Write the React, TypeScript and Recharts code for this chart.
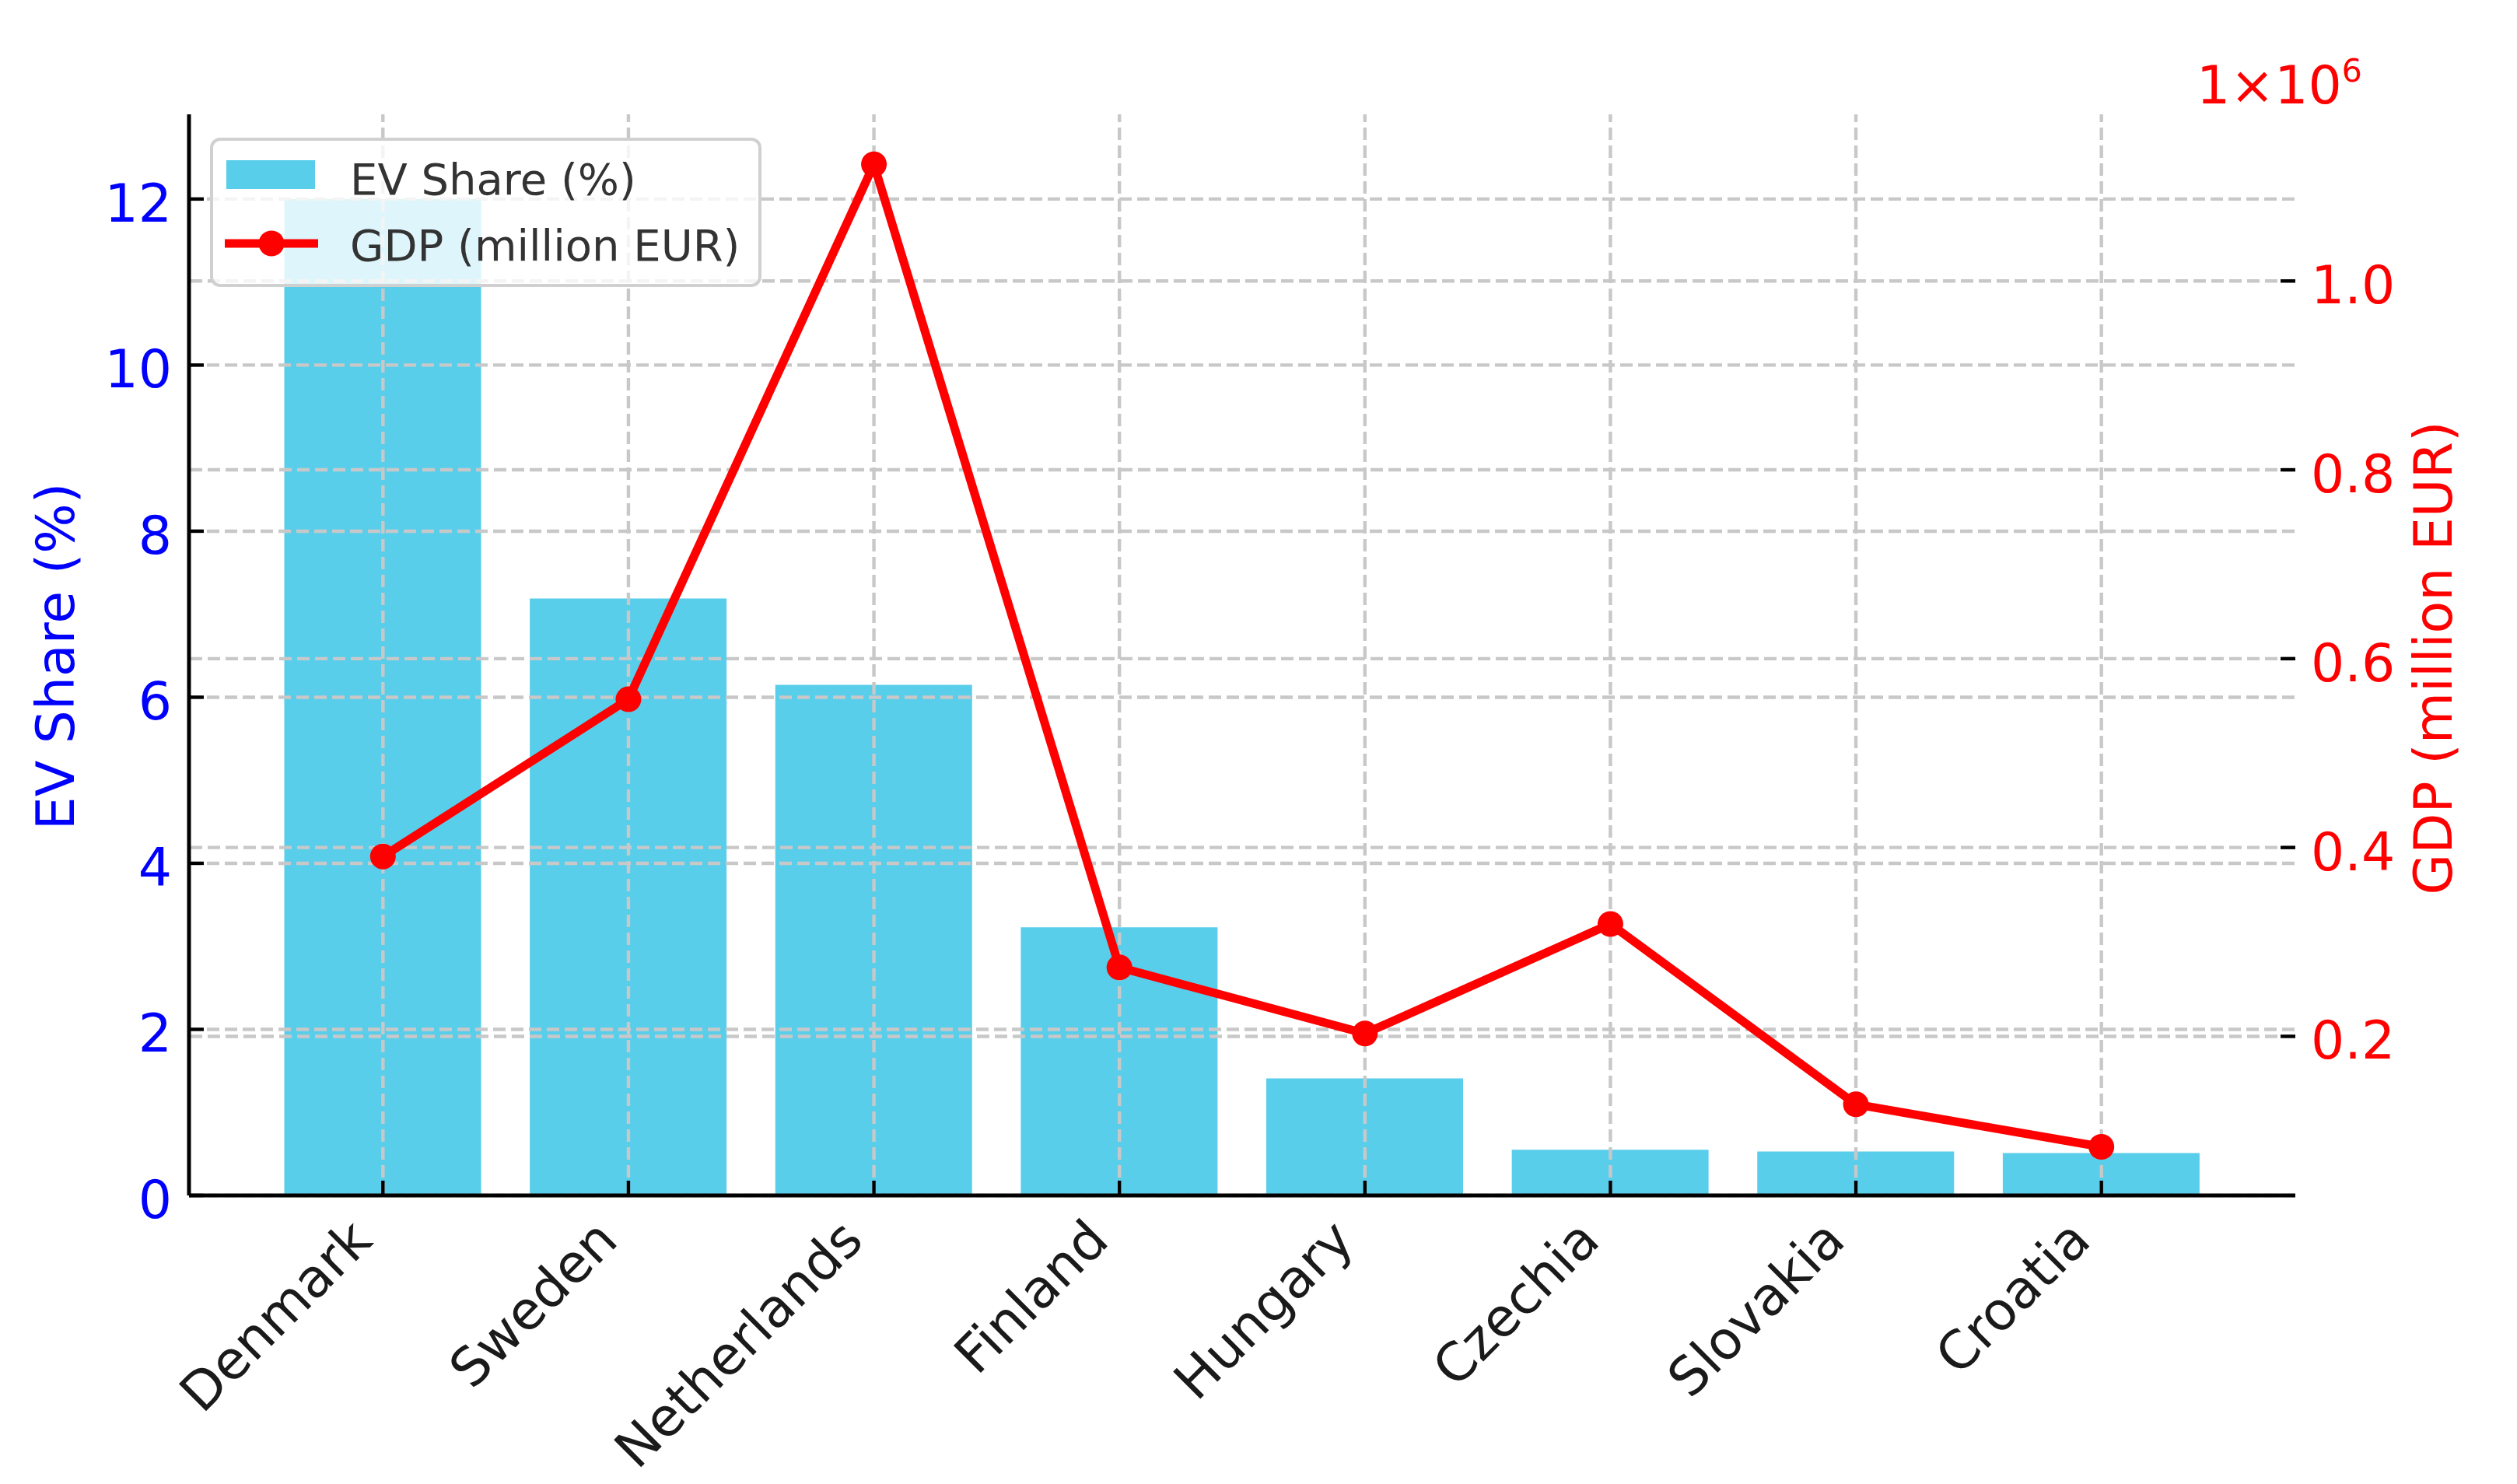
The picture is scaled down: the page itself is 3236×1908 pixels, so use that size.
import React from 'react';
import { ComposedChart, Bar, Line, XAxis, YAxis, ReferenceLine, Legend } from 'recharts';

// ---- data ----
const countries = ['Denmark', 'Sweden', 'Netherlands', 'Finland', 'Hungary', 'Czechia', 'Slovakia', 'Croatia'];
const evShare = [12.0, 7.19, 6.15, 3.23, 1.41, 0.55, 0.53, 0.51];
const gdpMillionEur = [390500, 557000, 1123600, 273000, 203000, 319000, 128000, 83000];
const leftTicks = [0, 2, 4, 6, 8, 10, 12];
const rightTicks = [200000, 400000, 600000, 800000, 1000000];
const seriesNames = ['EV Share (%)', 'GDP (million EUR)'];
const leftAxisTitle = 'EV Share (%)';
const rightAxisTitle = 'GDP (million EUR)';

const data = countries.map((c, i) => ({ country: c, ev: evShare[i], gdp: gdpMillionEur[i] }));

// ---- layout / style ----
const W = 3236;
const H = 1908;
const PLOT_LEFT = 243;
const PLOT_RIGHT_GAP = 285;
const PLOT_TOP = 147;
const X_AXIS_H = 371;
const PLOT_BOTTOM = H - X_AXIS_H;
const FONT = "'DejaVu Sans', sans-serif";
const TICK_FS = 68;
const BAR_COLOR = '#58CEEB';
const LINE_COLOR = '#FF0000';
const GRID = { stroke: '#c8c8c8', strokeWidth: 4.4, strokeDasharray: '16 7' };
const TICK_LEN = 19;

const LeftTick = (props: any) => {
  const { x, y, payload } = props;
  return (
    <g>
      <line x1={x} x2={x + TICK_LEN} y1={y} y2={y} stroke="#000" strokeWidth={4.4} />
      <text x={x - 22} y={y + 29} textAnchor="end" fill="#0000FF" fontSize={TICK_FS} fontFamily={FONT}>
        {payload.value}
      </text>
    </g>
  );
};

const RightTick = (props: any) => {
  const { x, y, payload } = props;
  return (
    <g>
      <line x1={x} x2={x - TICK_LEN} y1={y} y2={y} stroke="#000" strokeWidth={4.4} />
      <text x={x + 20} y={y + 29} textAnchor="start" fill="#FF0000" fontSize={TICK_FS} fontFamily={FONT}>
        {(payload.value / 1e6).toFixed(1)}
      </text>
    </g>
  );
};

const XTick = (props: any) => {
  const { x, y, payload } = props;
  const ax = x - 11;
  const ay = y + 61;
  return (
    <g>
      <line x1={x} x2={x} y1={y} y2={y - TICK_LEN} stroke="#000" strokeWidth={4.4} />
      <text
        x={ax}
        y={ay}
        textAnchor="end"
        transform={`rotate(-45, ${ax}, ${ay})`}
        fill="#1a1a1a"
        fontSize={TICK_FS}
        fontFamily={FONT}
      >
        {payload.value}
      </text>
    </g>
  );
};

const LeftLabel = () => {
  const cx = 95;
  const cy = (PLOT_TOP + PLOT_BOTTOM) / 2 + 2;
  return (
    <text
      x={cx}
      y={cy}
      textAnchor="middle"
      transform={`rotate(-90, ${cx}, ${cy})`}
      fill="#0000FF"
      fontSize={68}
      fontFamily={FONT}
    >
      {leftAxisTitle}
    </text>
  );
};

const RightLabel = () => {
  const cx = 3152;
  const cy = (PLOT_TOP + PLOT_BOTTOM) / 2 + 4;
  return (
    <g>
      <text
        x={cx}
        y={cy}
        textAnchor="middle"
        transform={`rotate(-90, ${cx}, ${cy})`}
        fill="#FF0000"
        fontSize={68}
        fontFamily={FONT}
      >
        {rightAxisTitle}
      </text>
      <text x={2824} y={133} fill="#FF0000" fontSize={68} fontFamily={FONT}>
        1×10
        <tspan dy={-28} fontSize={41}>6</tspan>
      </text>
    </g>
  );
};

const LegendBox = () => {
  const w = 709;
  const h = 192;
  return (
    <svg width={w} height={h} style={{ display: 'block', overflow: 'visible' }}>
      <rect x={2} y={2} width={w - 4} height={h - 4} rx={11} ry={11} fill="rgba(255,255,255,0.8)" stroke="#d0d0d0" strokeWidth={4} />
      <rect x={21} y={29} width={114} height={37} fill={BAR_COLOR} />
      <text x={180} y={73} fill="#333" fontSize={56} fontFamily={FONT}>{seriesNames[0]}</text>
      <line x1={19} x2={139} y1={136} y2={136} stroke={LINE_COLOR} strokeWidth={11} />
      <circle cx={79} cy={136} r={16.5} fill={LINE_COLOR} />
      <text x={180} y={158} fill="#333" fontSize={56} fontFamily={FONT}>{seriesNames[1]}</text>
    </svg>
  );
};

export default function App() {
  return (
    <div style={{ position: 'absolute', left: 0, top: 0, width: W, height: H, background: '#fff' }}>
      <ComposedChart
        width={W}
        height={H}
        data={data}
        margin={{ top: PLOT_TOP, right: 0, bottom: 0, left: 0 }}
        style={{ background: '#fff' }}
      >
        <XAxis
          dataKey="country"
          type="category"
          height={X_AXIS_H}
          padding={{ left: 91.5, right: 91.5 }}
          interval={0}
          tickSize={0}
          tickMargin={0}
          tickLine={false}
          axisLine={{ stroke: '#000', strokeWidth: 5 }}
          tick={<XTick />}
        />
        <YAxis
          yAxisId="left"
          orientation="left"
          width={PLOT_LEFT}
          domain={[0, 13.02]}
          ticks={leftTicks}
          interval={0}
          allowDataOverflow
          tickSize={0}
          tickMargin={0}
          tickLine={false}
          axisLine={{ stroke: '#000', strokeWidth: 5 }}
          tick={<LeftTick />}
          label={<LeftLabel />}
        />
        <YAxis
          yAxisId="right"
          orientation="right"
          width={PLOT_RIGHT_GAP}
          domain={[31500, 1176500]}
          ticks={rightTicks}
          interval={0}
          allowDataOverflow
          tickSize={0}
          tickMargin={0}
          tickLine={false}
          axisLine={false}
          tick={<RightTick />}
          label={<RightLabel />}
        />
        <Bar yAxisId="left" dataKey="ev" name={seriesNames[0]} fill={BAR_COLOR} barSize={253} isAnimationActive={false} />
        {leftTicks.map((t) => (
          <ReferenceLine key={'gl' + t} yAxisId="left" y={t} {...GRID} zIndex={350} />
        ))}
        {rightTicks.map((t) => (
          <ReferenceLine key={'gr' + t} yAxisId="right" y={t} {...GRID} zIndex={350} />
        ))}
        {countries.map((c) => (
          <ReferenceLine key={'gx' + c} yAxisId="left" x={c} {...GRID} zIndex={350} />
        ))}
        <Line
          yAxisId="right"
          type="linear"
          dataKey="gdp"
          name={seriesNames[1]}
          stroke={LINE_COLOR}
          strokeWidth={11}
          dot={{ r: 16.5, fill: LINE_COLOR, stroke: 'none', strokeWidth: 0 }}
          activeDot={false}
          isAnimationActive={false}
        />
        <Legend
          layout="vertical"
          align="center"
          verticalAlign="middle"
          content={<LegendBox />}
          wrapperStyle={{ position: 'absolute', left: 270, top: 177, width: 709, height: 192, margin: 0, padding: 0 }}
        />
      </ComposedChart>
    </div>
  );
}
